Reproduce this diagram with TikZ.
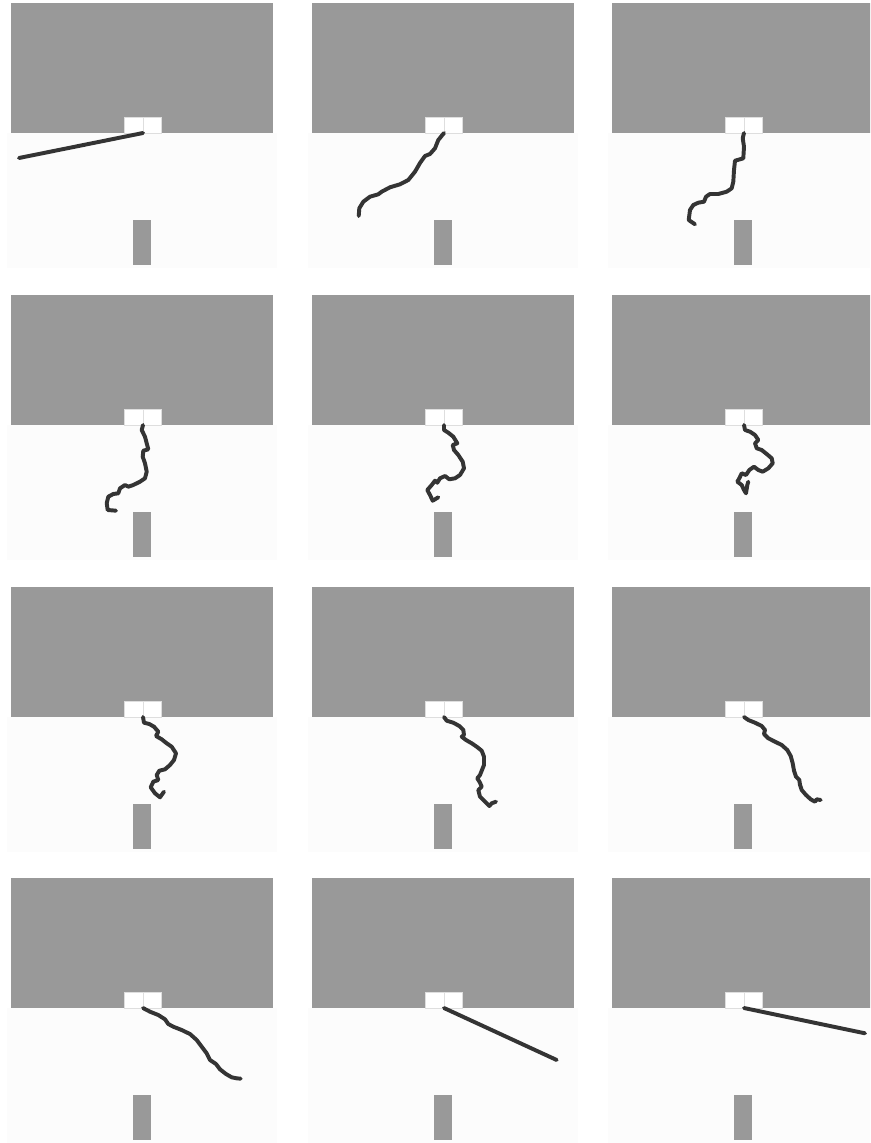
\documentclass[tikz,border=0pt]{standalone}
\usepackage{xcolor}
\usepackage{tikz}
\usetikzlibrary{positioning}
\definecolor{wallgray}{RGB}{153,153,153}
\definecolor{floorwhite}{RGB}{252,252,252}
\definecolor{notchline}{RGB}{222,222,222}
\definecolor{ropedark}{RGB}{52,52,52}
\tikzset{
  wall/.style={fill=wallgray, draw=none},
  floor/.style={fill=floorwhite, draw=none},
  notch/.style={fill=white, draw=notchline, line width=0.6pt},
  post/.style={fill=wallgray, draw=none},
  rope/.style={draw=ropedark, line width=2.8pt, line join=round, line cap=round}
}

\begin{document}
\begin{tikzpicture}[x=0.025cm, y=-0.025cm]
  \clip (0,0) rectangle (870,1143);
  \fill[white] (0,0) rectangle (870,1143);

  % Panels: wall, notch, floor and post
  \foreach \ox [count=\i] in {11,312,612} {
    \foreach \oy [count=\j] in {3,295,587,878} {
      \begin{scope}[shift={(\ox,\oy)}]
        \path[floor] (-4,130) rectangle (266,265);
        \path[wall] (0,0) rectangle (262,130);
        \path[notch] (113,114) rectangle (132,130);
        \path[notch] (132,114) rectangle (150,130);
        \path[post] (122,217) rectangle (140,262);
        \coordinate (a\j\i) at (132,130);
      \end{scope}
    }
  }

  % Row 1
  \draw[rope, shift={(a11)}] (a11) -- (-124,25);
  \draw[rope, shift={(a12)}] (a12) -- (-5.7,7) -- (-9,15.3) -- (-14,21) -- (-19,23)
    -- (-24,30) -- (-29,38.7) -- (-35.7,47) -- (-44,51.3) -- (-54,54.3)
    -- (-62.3,58.7) -- (-65.7,61.3) -- (-74,63.7) -- (-80.7,68.7)
    -- (-84.7,75.3) -- (-85.3,83);
  \draw[rope, shift={(a13)}] (a13) -- (-1.3,5.3) -- (0,13.7) -- (-0.7,25.3) -- (-4,26.3)
    -- (-9,27.7) -- (-10,37) -- (-10.7,48.7) -- (-12.3,55.3) -- (-17.3,58.7)
    -- (-25.7,61) -- (-34,61) -- (-38,63.7) -- (-40,68.7) -- (-45.7,69.7)
    -- (-50.7,72) -- (-54,77) -- (-55.3,87) -- (-49,91.3);

  % Row 2
  \draw[rope, shift={(a21)}] (a21) -- (-1.3,5) -- (2,11.7) -- (3.7,18.3) -- (5.3,24.3)
    -- (0.3,25.7) -- (-0.3,31.7) -- (2,38.3) -- (3.7,46.7) -- (2,53.3)
    -- (-3,56.7) -- (-9.7,60) -- (-14.7,61.7) -- (-18,60) -- (-23,63.3)
    -- (-24.7,68.3) -- (-29.7,69) -- (-34.7,71.7) -- (-36.3,78.3)
    -- (-35.3,85) -- (-27,85.7);
  \draw[rope, shift={(a22)}] (a22) -- (0,5) -- (4.3,7.7) -- (9.3,11.7) -- (13.3,18.3)
    -- (8.7,20) -- (10,25) -- (14.3,30) -- (18.7,36.7) -- (20,43.3)
    -- (16,50) -- (11,53.3) -- (5.3,54.3) -- (1,51) -- (-4,53.3)
    -- (-6.7,57.7) -- (-9,55.7) -- (-12.3,60) -- (-16.7,65) -- (-14,70)
    -- (-11.3,75.7) -- (-5.7,72.3);
  \draw[rope, shift={(a23)}] (a23) -- (1,5) -- (6,6.7) -- (11,10) -- (14.3,15)
    -- (11,18.3) -- (12.7,23.3) -- (17.7,25) -- (22.7,29) -- (27.7,33.3)
    -- (28.7,38.3) -- (24.3,43.3) -- (18.7,46.7) -- (14.3,45) -- (10,41.7)
    -- (5.3,45) -- (2,50) -- (-2.3,48.3) -- (-4.7,53.3) -- (-6.7,56.7)
    -- (-2.3,60) -- (0,65) -- (2,68.3) -- (3.3,60) -- (4.3,56.7);

  % Row 3
  \draw[rope, shift={(a31)}] (a31) -- (1,5.7) -- (6.3,7) -- (11,9.7) -- (15.3,14.7)
    -- (13,19) -- (18.7,22.3) -- (23.7,26.3) -- (28.7,29.7) -- (33,36.3)
    -- (31,43) -- (27,48) -- (22,52.3) -- (16.3,53.7) -- (13.7,58)
    -- (15.3,63) -- (10.3,64.7) -- (7.7,70.3) -- (12,76.3) -- (17,80.3)
    -- (21,74.7);
  \draw[rope, shift={(a32)}] (a32) -- (2.7,3.7) -- (9.3,5.7) -- (15.3,9) -- (19.3,13)
    -- (20,18) -- (17.7,19.7) -- (22,23) -- (27.7,26.3) -- (32.7,29.7)
    -- (37.7,33.7) -- (40,39.7) -- (40,48) -- (37.7,53.7) -- (36,58)
    -- (33.3,61.3) -- (36,65.7) -- (37.7,69.7) -- (34.3,73) -- (36,79.7)
    -- (41,84.7) -- (45.3,89) -- (47.7,86.3) -- (52,84.7);
  \draw[rope, shift={(a33)}] (a33) -- (4.3,3) -- (11,5.7) -- (17.7,9) -- (21,13)
    -- (20,17) -- (24.3,21.3) -- (31,24.7) -- (37.7,28) -- (43.3,33)
    -- (46.7,39) -- (48.7,46.3) -- (50,53.7) -- (52,59.7) -- (55.3,63)
    -- (56,68) -- (57.7,73) -- (62,78) -- (66.7,82.3) -- (71,84.7)
    -- (72.7,82.3) -- (76.7,83);

  % Row 4
  \draw[rope, shift={(a41)}] (a41) -- (7,3.7) -- (15.3,7) -- (22,11.3) -- (25.3,16)
    -- (30.3,18.7) -- (38.7,22) -- (47,26) -- (53.7,32) -- (58.7,38.7)
    -- (63.7,45.3) -- (67,52) -- (73,56) -- (77,61.3) -- (83,66)
    -- (88.7,69.3) -- (93.7,70.3) -- (97.7,70.7);
  \draw[rope, shift={(a42)}] (a42) -- (112.7,52);
  \draw[rope, shift={(a43)}] (a43) -- (121,25.3);
\end{tikzpicture}
\end{document}
